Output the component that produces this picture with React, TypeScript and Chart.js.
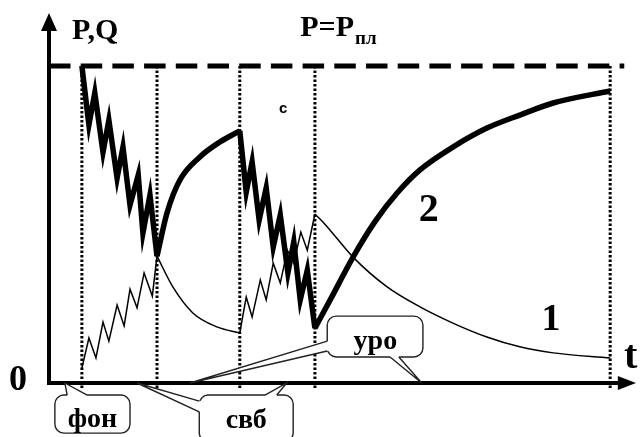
import React, { useEffect, useRef } from 'react';
import { Chart, registerables } from 'chart.js';

Chart.register(...registerables);

type Pt = [number, number];

// P (curve 2): drawdown / build-up segments, in time units (x) and pressure units (y, Pпл = 100)
const pDrawdown1: Pt[] = [
  [5.6, 100], [6.8, 81.4], [7.8, 91.5], [9.2, 72.8], [10.2, 82.9], [11.6, 64.6],
  [12.6, 74.4], [13.8, 56.1], [15.2, 65.6], [16.0, 47.3], [17.2, 59.3], [18.4, 40],
];
const pBuildup1: Pt[] = [
  [18.4, 40], [20.1, 53.6], [22.3, 64.0], [25.7, 71.3], [29.1, 76.0], [32.5, 79.5],
];
const pDrawdown2: Pt[] = [
  [32.5, 79.5], [33.6, 60.2], [34.6, 69.7], [35.8, 51.4], [37.0, 61.5], [38.2, 42.9],
  [39.4, 53.0], [40.7, 34.7], [41.7, 44.5], [42.8, 26.2], [44.0, 35.6], [45.3, 17.3],
];
const pBuildup2: Pt[] = [
  [45.3, 17.3], [47.9, 26.2], [51.8, 39.7], [55.5, 50.8], [59.3, 59.9], [63.2, 67.2],
  [68.8, 74.4], [74.6, 80.4], [80.2, 84.5], [85.9, 88.3], [95.6, 92.1],
];

// Q (curve 1)
const qRise1: Pt[] = [
  [5.6, 4.7], [6.8, 14.2], [8.0, 7.9], [9.2, 19.2], [10.2, 13.2], [11.6, 24.6],
  [12.8, 18.0], [13.8, 29.6], [15.0, 23.7], [16.2, 34.7], [17.6, 27.4], [18.4, 40],
];
const qDecay1: Pt[] = [
  [18.4, 40], [21.1, 30.3], [24.5, 22.1], [28.6, 17.7], [32.5, 15.8],
];
const qRise2: Pt[] = [
  [32.5, 15.8], [33.6, 27.1], [34.6, 20.8], [36.0, 32.5], [37.0, 26.2], [38.2, 37.8],
  [39.4, 31.5], [40.6, 41.9], [41.7, 37.8], [42.9, 47.6], [44.0, 41.9], [45.3, 53.3],
];
const qDecay2: Pt[] = [
  [45.3, 53.3], [47.0, 50.1], [51.8, 39.7], [57.6, 30.3], [63.2, 24.0], [68.8, 18.9],
  [74.6, 14.5], [80.2, 11.4], [85.9, 9.5], [95.6, 7.9],
];

const stageTimes = [5.6, 18.4, 32.5, 45.3, 95.6];
const reservoirPressure = 100;
const dashedEndTime = 98;
const stageLineBottom = -1.8;

const X_MAX = 100;
const Y_MAX = 117;

const toXY = (pts: Pt[]) => pts.map(([x, y]) => ({ x, y }));

// text labels (positions in data units)
const plotLabels = [
  { text: '0', x: -5.3, y: -2.2, size: 36, align: 'center' },
  { text: 't', x: 99.1, y: 4.7, size: 40, align: 'center' },
  { text: 'P,Q', x: 3.9, y: 108.5, size: 30, align: 'left' },
  { text: '2', x: 64.7, y: 51.1, size: 40, align: 'center' },
  { text: '1', x: 85.5, y: 16.7, size: 38, align: 'center' },
];

// callouts: box [x1, y1(top), x2, y2(bottom)], wedges [tip, base1, base2]
const callouts = [
  {
    text: 'фон', textX: 7.4, textY: -13.9,
    box: [1.0, -3.8, 13.8, -15.8],
    wedges: [[[2.7, 0], [3.1, -3.8], [6.5, -3.8]]],
  },
  {
    text: 'свб', textX: 33.6, textY: -14.2,
    box: [25.6, -3.8, 41.6, -18.5],
    wedges: [
      [[15.0, 0], [25.6, -5.7], [25.6, -9.1]],
      [[40.5, 0], [36.8, -3.8], [38.8, -3.8]],
    ],
  },
  {
    text: 'уро', textX: 55.6, textY: 10.7,
    box: [47.4, 21.1, 63.7, 8.2],
    wedges: [
      [[24.0, 0], [47.4, 13.2], [47.4, 10.1]],
      [[63.5, 0], [58.1, 8.2], [59.6, 8.2]],
    ],
  },
];

const SERIF = '"Liberation Serif", "Times New Roman", serif';

const decorPlugin = {
  id: 'schemeDecor',
  beforeDatasetsDraw(chart: any) {
    const { ctx, scales } = chart;
    const X = (v: number) => scales.x.getPixelForValue(v);
    const Y = (v: number) => scales.y.getPixelForValue(v);
    const x0 = X(0);
    const y0 = Y(0);
    ctx.save();
    ctx.strokeStyle = '#000';
    ctx.fillStyle = '#000';
    ctx.lineWidth = 4;
    ctx.beginPath();
    ctx.moveTo(x0, y0 + 2);
    ctx.lineTo(x0, Y(112));
    ctx.stroke();
    ctx.beginPath();
    ctx.moveTo(x0, Y(116.7));
    ctx.lineTo(x0 - 8, Y(111));
    ctx.lineTo(x0 + 8, Y(111));
    ctx.closePath();
    ctx.fill();
    ctx.beginPath();
    ctx.moveTo(x0 - 2, y0);
    ctx.lineTo(X(97.5), y0);
    ctx.stroke();
    ctx.beginPath();
    ctx.moveTo(X(100), y0);
    ctx.lineTo(X(96.9), y0 - 7);
    ctx.lineTo(X(96.9), y0 + 7);
    ctx.closePath();
    ctx.fill();
    ctx.restore();
  },
  afterDatasetsDraw(chart: any) {
    const { ctx, scales } = chart;
    const X = (v: number) => scales.x.getPixelForValue(v);
    const Y = (v: number) => scales.y.getPixelForValue(v);
    ctx.save();
    ctx.fillStyle = '#000';
    ctx.textBaseline = 'alphabetic';
    for (const l of plotLabels) {
      ctx.font = `bold ${l.size}px ${SERIF}`;
      ctx.textAlign = l.align as CanvasTextAlign;
      ctx.fillText(l.text, X(l.x), Y(l.y));
    }
    // P = Pпл
    ctx.font = `bold 30px ${SERIF}`;
    ctx.textAlign = 'left';
    const px = X(42.8);
    ctx.fillText('P=P', px, Y(109.4));
    const w = ctx.measureText('P=P').width;
    ctx.font = `bold 19px ${SERIF}`;
    ctx.fillText('пл', px + w + 1, Y(107.0));
    // small c
    ctx.font = 'bold 15px "Liberation Sans", Arial, sans-serif';
    ctx.textAlign = 'center';
    ctx.fillText('c', X(39.9), Y(85.1));

    // callouts
    for (const c of callouts) {
      const [bx1, by1, bx2, by2] = c.box;
      const L = X(bx1), T = Y(by1), R = X(bx2), B = Y(by2);
      ctx.beginPath();
      ctx.roundRect(L, T, R - L, B - T, 9);
      ctx.fillStyle = '#fff';
      ctx.fill();
      ctx.strokeStyle = '#222';
      ctx.lineWidth = 1.4;
      ctx.stroke();
      for (const wd of c.wedges) {
        const tip = [X(wd[0][0]), Y(wd[0][1])];
        const b1 = [X(wd[1][0]), Y(wd[1][1])];
        const b2 = [X(wd[2][0]), Y(wd[2][1])];
        const inward = (p: number[]) => {
          if (Math.abs(p[1] - T) < 1) return [p[0], p[1] + 3];
          if (Math.abs(p[1] - B) < 1) return [p[0], p[1] - 3];
          if (Math.abs(p[0] - L) < 1) return [p[0] + 3, p[1]];
          return [p[0] - 3, p[1]];
        };
        const i1 = inward(b1), i2 = inward(b2);
        ctx.beginPath();
        ctx.moveTo(i1[0], i1[1]);
        ctx.lineTo(b1[0], b1[1]);
        ctx.lineTo(tip[0], tip[1]);
        ctx.lineTo(b2[0], b2[1]);
        ctx.lineTo(i2[0], i2[1]);
        ctx.closePath();
        ctx.fillStyle = '#fff';
        ctx.fill();
        ctx.beginPath();
        ctx.moveTo(b1[0], b1[1]);
        ctx.lineTo(tip[0], tip[1]);
        ctx.lineTo(b2[0], b2[1]);
        ctx.stroke();
      }
      ctx.fillStyle = '#000';
      ctx.font = `bold 28px ${SERIF}`;
      ctx.textAlign = 'center';
      ctx.fillText(c.text, X(c.textX), Y(c.textY));
    }
    ctx.restore();
  },
};

export default function App() {
  const ref = useRef<HTMLCanvasElement | null>(null);

  useEffect(() => {
    if (!ref.current) return;
    const thick = (pts: Pt[], label: string, curve: boolean) => ({
      label,
      data: toXY(pts),
      borderColor: '#000',
      borderWidth: 5.5,
      pointRadius: 0,
      fill: false,
      clip: false,
      tension: curve ? 0.4 : 0,
      cubicInterpolationMode: curve ? 'monotone' : 'default',
      borderJoinStyle: 'miter',
      borderCapStyle: 'butt',
    });
    const thin = (pts: Pt[], label: string, curve: boolean) => ({
      label,
      data: toXY(pts),
      borderColor: '#000',
      borderWidth: 1.5,
      pointRadius: 0,
      fill: false,
      clip: false,
      tension: curve ? 0.4 : 0,
      cubicInterpolationMode: curve ? 'monotone' : 'default',
    });
    const stageLines = stageTimes.map((t, i) => ({
      label: 'stage' + i,
      data: [{ x: t, y: reservoirPressure }, { x: t, y: stageLineBottom }],
      borderColor: '#000',
      borderWidth: 3,
      borderDash: [2.5, 2],
      borderCapStyle: 'butt',
      pointRadius: 0,
      fill: false,
      clip: false,
    }));
    const chart = new Chart(ref.current, {
      type: 'line',
      data: {
        datasets: [
          ...stageLines,
          {
            label: 'Pпл',
            data: [{ x: 0, y: reservoirPressure }, { x: dashedEndTime, y: reservoirPressure }],
            borderColor: '#000',
            borderWidth: 5,
            borderDash: [21.5, 10.2],
            borderCapStyle: 'butt',
            pointRadius: 0,
            fill: false,
            clip: false,
          },
          thin(qRise1, 'Q rise 1', false),
          thin(qDecay1, 'Q decay 1', true),
          thin(qRise2, 'Q rise 2', false),
          thin(qDecay2, 'Q decay 2', true),
          thick(pDrawdown1, 'P drawdown 1', false),
          thick(pBuildup1, 'P build-up 1', true),
          thick(pDrawdown2, 'P drawdown 2', false),
          thick(pBuildup2, 'P build-up 2', true),
        ] as any,
      },
      options: {
        animation: false,
        responsive: false,
        devicePixelRatio: 1,
        layout: { padding: { left: 49, right: 4, top: 12, bottom: 54 } },
        scales: {
          x: { type: 'linear', min: 0, max: X_MAX, display: false },
          y: { type: 'linear', min: 0, max: Y_MAX, display: false },
        },
        plugins: {
          legend: { display: false },
          tooltip: { enabled: false },
        },
      },
      plugins: [decorPlugin],
    });
    return () => chart.destroy();
  }, []);

  return (
    <div style={{ position: 'fixed', left: 0, top: 0, width: 640, height: 437, background: '#fff' }}>
      <canvas ref={ref} width={640} height={437} />
    </div>
  );
}
